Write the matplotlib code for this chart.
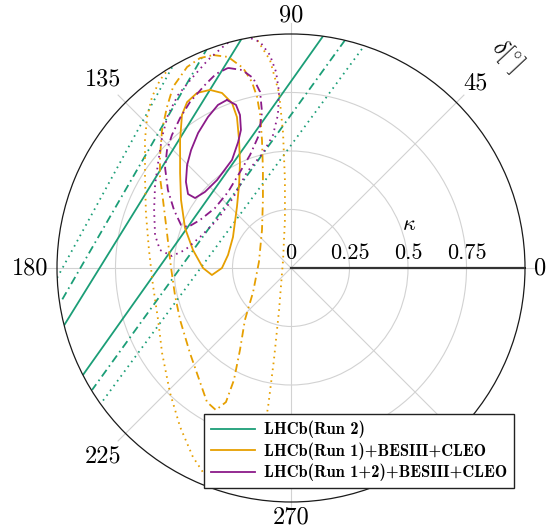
import numpy as np
import matplotlib.pyplot as plt
from matplotlib.lines import Line2D

plt.rcParams['font.family'] = 'cmr10'
plt.rcParams['mathtext.fontset'] = 'cm'
plt.rcParams['axes.unicode_minus'] = False

# All contours are given as (kappa*cos(delta), kappa*sin(delta)).

# LHCb (Run 2): band edges are straight lines, stored by their two ends
run2_1s_x = [[-0.209, -0.974], [0.137, -0.889]]
run2_1s_y = [[0.983, -0.252], [0.991, -0.457]]
run2_2s_x = [[-0.355, -0.979], [0.231, -0.850]]
run2_2s_y = [[0.944, -0.137], [0.974, -0.521]]
run2_3s_x = [[-0.496, -1.000], [0.303, -0.808]]
run2_3s_y = [[0.880, -0.043], [0.936, -0.573]]

# LHCb (Run 1) + BESIII + CLEO
run1_1s_x = [-0.346, -0.295, -0.252, -0.231, -0.222, -0.218, -0.222, -0.231, -0.248,
             -0.269, -0.295, -0.338, -0.376, -0.419, -0.453, -0.470, -0.474, -0.474,
             -0.466, -0.444, -0.402]
run1_1s_y = [0.761, 0.748, 0.705, 0.645, 0.547, 0.449, 0.355, 0.261, 0.132,
             0.056, 0.000, -0.030, 0.000, 0.077, 0.171, 0.291, 0.406, 0.547,
             0.654, 0.709, 0.748]
run1_2s_x = [-0.333, -0.269, -0.205, -0.167, -0.145, -0.132, -0.124, -0.120, -0.120,
             -0.124, -0.137, -0.162, -0.197, -0.218, -0.244, -0.278, -0.321, -0.359,
             -0.389, -0.432, -0.474, -0.496, -0.513, -0.530, -0.547, -0.560, -0.560,
             -0.551, -0.530, -0.504, -0.444, -0.389]
run1_2s_y = [0.910, 0.902, 0.855, 0.795, 0.731, 0.654, 0.547, 0.419, 0.291,
             0.162, 0.026, -0.103, -0.222, -0.350, -0.479, -0.573, -0.607, -0.573,
             -0.487, -0.363, -0.222, -0.115, 0.004, 0.150, 0.291, 0.389, 0.474,
             0.590, 0.688, 0.774, 0.859, 0.897]
run1_3s_x = [-0.197, -0.150, -0.090, -0.051, -0.034, -0.026, -0.026, -0.034, -0.051,
             -0.073, -0.098, -0.115, -0.154, -0.218, -0.295, -0.368, -0.419, -0.474,
             -0.517, -0.551, -0.568, -0.590, -0.607, -0.620, -0.624, -0.624, -0.615,
             -0.594, -0.560, -0.517, -0.410, -0.303]
run1_3s_y = [1.026, 0.983, 0.889, 0.748, 0.577, 0.376, 0.205, 0.034, -0.179,
             -0.393, -0.594, -0.692, -0.821, -0.906, -0.927, -0.885, -0.808, -0.679,
             -0.534, -0.363, -0.222, -0.073, 0.077, 0.235, 0.389, 0.547, 0.645,
             0.731, 0.803, 0.859, 0.983, 1.026]

# LHCb (Run 1+2) + BESIII + CLEO
run12_1s_x = [-0.274, -0.235, -0.218, -0.214, -0.226, -0.252, -0.316, -0.368,
              -0.410, -0.440, -0.449, -0.444, -0.427, -0.397, -0.355, -0.312]
run12_1s_y = [0.718, 0.697, 0.654, 0.590, 0.538, 0.462, 0.376, 0.325,
              0.299, 0.316, 0.368, 0.440, 0.504, 0.577, 0.645, 0.697]
run12_2s_x = [-0.269, -0.209, -0.162, -0.132, -0.124, -0.137, -0.175, -0.218,
              -0.269, -0.325, -0.389, -0.440, -0.470, -0.500, -0.526, -0.538,
              -0.530, -0.509, -0.474, -0.432, -0.368, -0.321]
run12_2s_y = [0.855, 0.846, 0.812, 0.752, 0.667, 0.568, 0.483, 0.410,
              0.325, 0.256, 0.205, 0.175, 0.184, 0.248, 0.333, 0.427,
              0.504, 0.568, 0.641, 0.709, 0.782, 0.829]
run12_3s_x = [-0.218, -0.132, -0.090, -0.064, -0.051, -0.056, -0.077, -0.120,
              -0.188, -0.248, -0.316, -0.389, -0.453, -0.509, -0.560, -0.581,
              -0.585, -0.581, -0.568, -0.551, -0.526, -0.483, -0.423, -0.355, -0.282]
run12_3s_y = [1.000, 0.966, 0.910, 0.838, 0.752, 0.654, 0.568, 0.491,
              0.410, 0.299, 0.205, 0.132, 0.077, 0.051, 0.077, 0.141,
              0.248, 0.355, 0.449, 0.560, 0.654, 0.739, 0.812, 0.889, 0.953]

angle_ticks = [0, 45, 90, 135, 180, 225, 270]
kappa_ticks = [0, 0.25, 0.5, 0.75]
legend_labels = ['LHCb(Run 2)', 'LHCb(Run 1)+BESIII+CLEO', 'LHCb(Run 1+2)+BESIII+CLEO']

GREEN = '#1b9e77'
ORANGE = '#e69f00'
PURPLE = '#8b1a89'
SOLID = '-'
DASHDOT = (0, (4.5, 2.2, 0.9, 2.2))
DOTTED = (0, (0.9, 2.4))


def to_polar(x, y):
    x = np.asarray(x, dtype=float)
    y = np.asarray(y, dtype=float)
    return np.arctan2(y, x), np.hypot(x, y)


def closed(x, y):
    return list(x) + [x[0]], list(y) + [y[0]]


fig = plt.figure(figsize=(5.47, 5.32), dpi=100)
ax = fig.add_axes([0.1042, 0.0564, 0.8556, 0.8797], projection='polar')
ax.set_rlim(0, 1)
ax.set_thetagrids(range(0, 360, 45), labels=[''] * 8)
ax.set_rgrids([0.25, 0.5, 0.75], labels=[''] * 3)
ax.grid(color='#d2d2d2', lw=0.8)
ax.tick_params(length=0)
ax.spines['polar'].set_color('#1a1a1a')
ax.spines['polar'].set_linewidth(0.9)

# short tick stubs outside the rim
for a in range(0, 360, 45):
    ax.plot([np.deg2rad(a)] * 2, [1.0, 1.045], color='#d2d2d2', lw=0.8, clip_on=False)

# kappa axis along delta = 0
ax.plot([0, 0], [0, 1], color='#333333', lw=1.6, zorder=4)

lw = 1.3
for xs, ys, ls in [(run2_3s_x, run2_3s_y, DOTTED), (run2_2s_x, run2_2s_y, DASHDOT),
                   (run2_1s_x, run2_1s_y, SOLID)]:
    for x, y in zip(xs, ys):
        t, r = to_polar(x, y)
        ax.plot(t, r, color=GREEN, ls=ls, lw=lw)

for x, y, ls, c in [(run1_3s_x, run1_3s_y, DOTTED, ORANGE),
                    (run1_2s_x, run1_2s_y, DASHDOT, ORANGE),
                    (run1_1s_x, run1_1s_y, SOLID, ORANGE),
                    (run12_3s_x, run12_3s_y, DOTTED, PURPLE),
                    (run12_2s_x, run12_2s_y, DASHDOT, PURPLE),
                    (run12_1s_x, run12_1s_y, SOLID, PURPLE)]:
    t, r = to_polar(*closed(x, y))
    ax.plot(t, r, color=c, ls=ls, lw=lw)

# angle labels
label_r = [1.064, 1.115, 1.081, 1.137, 1.115, 1.137, 1.064]
for a, rr in zip(angle_ticks, label_r):
    ax.text(np.deg2rad(a), rr, str(a), ha='center', va='center', fontsize=17.5,
            clip_on=False)

# kappa labels above the axis line
for k in kappa_ticks:
    ax.annotate('%g' % k, xy=(0, k), xytext=(0, 8.5), textcoords='offset pixels',
                ha='center', va='baseline', fontsize=16)
ax.annotate(r'$\kappa$', xy=(0, 0.5), xytext=(1, 44), textcoords='offset pixels',
            ha='center', va='center', fontsize=16)
ax.text(np.deg2rad(44.6), 1.295, r'$\delta[^{\circ}]$', rotation=-47,
        ha='center', va='center', fontsize=17, clip_on=False)

handles = [Line2D([], [], color=c, lw=lw) for c in (GREEN, ORANGE, PURPLE)]
leg = fig.legend(handles, legend_labels, loc='lower left',
                 bbox_to_anchor=(204 / 547, 44 / 532), bbox_transform=fig.transFigure,
                 prop={'family': 'cmb10', 'size': 11.8}, frameon=True, fancybox=False,
                 edgecolor='#222222', framealpha=1, borderaxespad=0,
                 handlelength=2.7, handletextpad=0.55, labelspacing=0.25,
                 borderpad=0.4)
leg.get_frame().set_linewidth(1.0)

fig.savefig('out.png', dpi=100)
